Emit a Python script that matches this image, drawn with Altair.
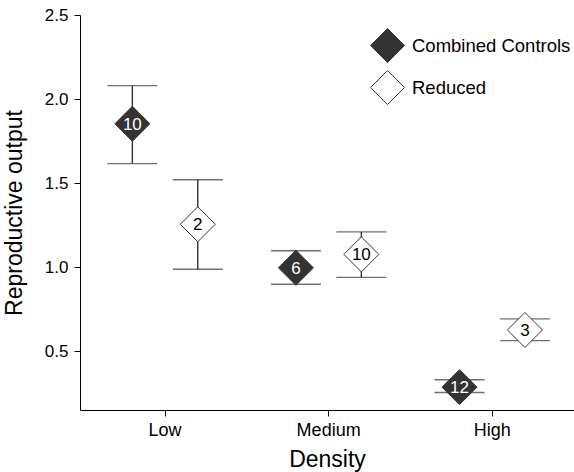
import altair as alt
import pandas as pd

densities = ["Low", "Low", "Medium", "Medium", "High", "High"]
groups = ["Combined Controls", "Reduced"] * 3
means = [1.853, 1.255, 0.996, 1.076, 0.286, 0.626]
lows = [1.616, 0.987, 0.898, 0.939, 0.254, 0.563]
highs = [2.080, 1.520, 1.097, 1.210, 0.330, 0.692]
ns = ["10", "2", "6", "10", "12", "3"]

density_order = ["Low", "Medium", "High"]
group_order = ["Combined Controls", "Reduced"]

df = pd.DataFrame({
    "density": densities, "group": groups, "mean": means,
    "lo": lows, "hi": highs, "n": ns,
})

FONT = "Liberation Sans"
DARK = "#333333"

x = alt.X("density:N", sort=density_order,
          scale=alt.Scale(paddingInner=0, paddingOuter=0.01, align=1),
          axis=alt.Axis(title="Density", labelAngle=0, labelFontSize=18,
                        titleFontSize=23, titleFontWeight="normal",
                        tickSize=6, labelPadding=5, titlePadding=9,
                        domainColor="black", tickColor="black",
                        labelColor="black", titleColor="black",
                        labelFont=FONT, titleFont=FONT))
xo = alt.XOffset("group:N", sort=group_order,
                 scale=alt.Scale(paddingInner=0, paddingOuter=0.25))
yscale = alt.Scale(domain=[0.15, 2.5], nice=False, zero=False)
yaxis = alt.Axis(title="Reproductive output", values=[0.5, 1.0, 1.5, 2.0, 2.5],
                 format=".1f", grid=False, labelFontSize=17, titleFontSize=23,
                 titleFontWeight="normal", tickSize=6, labelPadding=6,
                 titlePadding=18, domainColor="black", tickColor="black",
                 labelColor="black", titleColor="black",
                 labelFont=FONT, titleFont=FONT)

base = alt.Chart(df)

rules = base.mark_rule(color=DARK, strokeWidth=1.4).encode(
    x=x, xOffset=xo,
    y=alt.Y("lo:Q", scale=yscale, axis=yaxis), y2="hi:Q")
cap_hi = base.mark_tick(color=DARK, size=50, thickness=1.4).encode(
    x=x, xOffset=xo, y=alt.Y("hi:Q", scale=yscale))
cap_lo = base.mark_tick(color=DARK, size=50, thickness=1.4).encode(
    x=x, xOffset=xo, y=alt.Y("lo:Q", scale=yscale))
points = base.mark_point(shape="diamond", size=1225, filled=True, opacity=1,
                         stroke=DARK, strokeWidth=1).encode(
    x=x, xOffset=xo, y=alt.Y("mean:Q", scale=yscale),
    fill=alt.Fill("group:N", sort=group_order,
                  scale=alt.Scale(domain=group_order, range=[DARK, "white"]),
                  legend=alt.Legend(title=None, orient="none", legendX=290,
                                    legendY=13, symbolSize=1150,
                                    symbolType="diamond",
                                    symbolStrokeColor=DARK,
                                    symbolStrokeWidth=1, labelFontSize=18.5,
                                    labelFont=FONT, labelColor="black",
                                    labelOffset=7, rowPadding=3, padding=0)))
labels = base.mark_text(fontSize=17, font=FONT, baseline="middle", dy=1).encode(
    x=x, xOffset=xo, y=alt.Y("mean:Q", scale=yscale), text="n:N",
    color=alt.condition(alt.datum.group == "Combined Controls",
                        alt.value("white"), alt.value("black")))

chart = alt.layer(rules, cap_hi, cap_lo, points, labels).properties(
    width=494, height=395,
    autosize=alt.AutoSizeParams(type="none"),
    padding={"left": 80, "top": 15, "right": 0, "bottom": 62},
).configure_view(stroke=None).configure_axisX(domainWidth=1).configure_axisY(domainWidth=1)

chart.save("out.html", embed_options={"renderer": "svg", "actions": False})
